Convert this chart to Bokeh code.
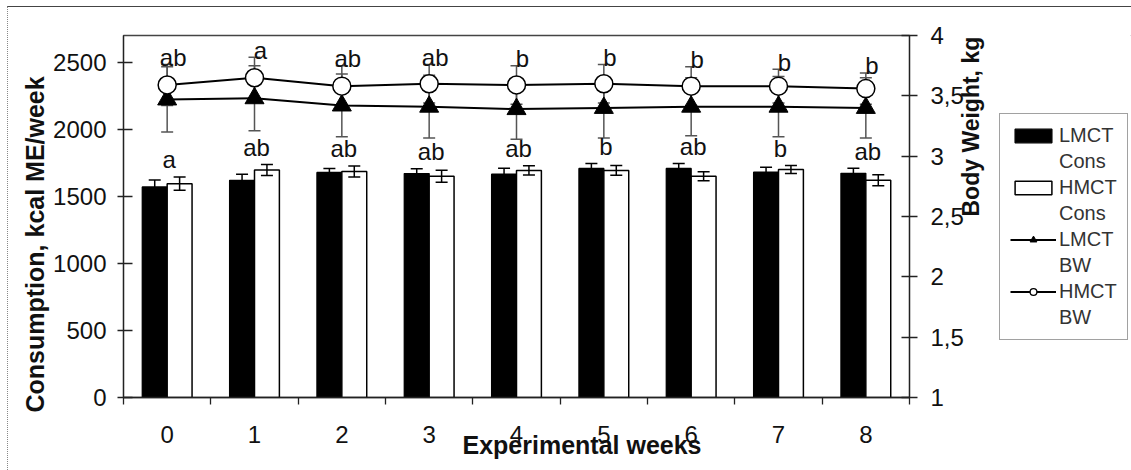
import math
from bokeh.plotting import figure
from bokeh.layouts import row
from bokeh.models import (Range1d, LinearAxis, FixedTicker, Legend, LegendItem,
                          Title, CustomJSTickFormatter)
from bokeh.core.properties import value
from bokeh.embed import file_html
from bokeh.resources import INLINE

# ---- data -------------------------------------------------------------
weeks = ["0", "1", "2", "3", "4", "5", "6", "7", "8"]
lmct_cons = [1570, 1620, 1678, 1670, 1665, 1708, 1708, 1680, 1672]
lmct_cons_err = [52, 45, 30, 37, 45, 37, 37, 37, 37]
hmct_cons = [1595, 1697, 1686, 1650, 1694, 1694, 1650, 1700, 1620]
hmct_cons_err = [50, 41, 41, 45, 35, 37, 34, 30, 41]
lmct_bw = [3.47, 3.48, 3.42, 3.41, 3.39, 3.40, 3.41, 3.41, 3.40]
lmct_bw_err = [0.27, 0.27, 0.26, 0.26, 0.25, 0.25, 0.24, 0.25, 0.25]
hmct_bw = [3.59, 3.65, 3.58, 3.60, 3.59, 3.60, 3.58, 3.58, 3.56]
hmct_bw_err = [0.17, 0.17, 0.17, 0.16, 0.16, 0.16, 0.16, 0.14, 0.13]
bw_letters = ["ab", "a", "ab", "ab", "b", "b", "b", "b", "b"]
cons_letters = ["a", "ab", "ab", "ab", "ab", "b", "ab", "b", "ab"]
left_ticks = [0, 500, 1000, 1500, 2000, 2500]
right_ticks = [1, 1.5, 2, 2.5, 3, 3.5, 4]
legend_lines = [("LMCT", "Cons"), ("HMCT", "Cons"), ("LMCT", "BW"), ("HMCT", "BW")]

FNAME = "Liberation Sans"
FONT = value(FNAME)
n = len(weeks)
xc = [i + 0.5 for i in range(n)]
bar_w = 0.285
xl = [x - 0.1425 for x in xc]
xh = [x + 0.1425 for x in xc]

p = figure(width=991, height=463, x_range=Range1d(0, n), y_range=Range1d(0, 2700),
           output_backend="svg", toolbar_location=None,
           min_border_left=115, min_border_right=87, min_border_top=28,
           min_border_bottom=73)
p.xgrid.visible = False
p.ygrid.visible = False
p.outline_line_color = "#444"
p.outline_line_width = 1.3
p.extra_y_ranges = {"bw": Range1d(1, 4)}

TICK_FS = "24px"

# x axis
xa = p.xaxis[0]
xa.ticker = FixedTicker(ticks=xc, minor_ticks=list(range(n + 1)))
xa.formatter = CustomJSTickFormatter(args=dict(labels=weeks),
                                     code="return labels[Math.floor(tick)];")
xa.major_tick_in = 0
xa.major_tick_out = 0
xa.major_tick_line_color = None
xa.minor_tick_in = 0
xa.minor_tick_out = 7
xa.minor_tick_line_color = "#222"
xa.minor_tick_line_width = 1.3
xa.axis_line_color = "#222"
xa.axis_line_width = 1.3
xa.major_label_standoff = 21
xa.major_label_text_font = FNAME
xa.major_label_text_font_size = TICK_FS
xa.major_label_text_color = "#111"

# left axis
ya = p.yaxis[0]
ya.ticker = FixedTicker(ticks=left_ticks)
ya.major_tick_in = 9
ya.major_tick_out = 6
ya.minor_tick_line_color = None
ya.major_tick_line_color = "#222"
ya.major_tick_line_width = 1.3
ya.axis_line_color = "#222"
ya.axis_line_width = 1.3
ya.major_label_standoff = 11
ya.major_label_text_font = FNAME
ya.major_label_text_font_size = TICK_FS
ya.major_label_text_color = "#111"

# right axis
ra = LinearAxis(y_range_name="bw", ticker=FixedTicker(ticks=right_ticks),
                formatter=CustomJSTickFormatter(code="return tick.toString().replace('.', ',');"))
ra.major_tick_in = 8
ra.major_tick_out = 8
ra.minor_tick_line_color = None
ra.major_tick_line_color = "#222"
ra.major_tick_line_width = 1.3
ra.axis_line_color = "#222"
ra.axis_line_width = 1.3
ra.major_label_standoff = 13
ra.major_label_text_font = FNAME
ra.major_label_text_font_size = TICK_FS
ra.major_label_text_color = "#111"
ra.axis_label = "Body Weight, kg"
ra.axis_label_orientation = math.pi / 2
ra.axis_label_standoff = 4
ra.axis_label_text_font = FNAME
ra.axis_label_text_font_size = "23px"
ra.axis_label_text_font_style = "bold"
ra.axis_label_text_color = "#111"
p.add_layout(ra, "right")

# titles
p.add_layout(Title(text="Consumption, kcal ME/week", align="left", offset=-15,
                   text_font=FNAME, text_font_size="25px", text_font_style="bold",
                   text_color="#111", standoff=4), "left")
p.add_layout(Title(text="Experimental weeks", align="left", offset=339,
                   vertical_align="top", text_font=FNAME, text_font_size="25px",
                   text_font_style="bold", text_color="#111", standoff=-30), "below")

# bars
p.vbar(x=xl, top=lmct_cons, bottom=0, width=bar_w, fill_color="black",
       line_color="black", line_width=1.3)
p.vbar(x=xh, top=hmct_cons, bottom=0, width=bar_w, fill_color="white",
       line_color="black", line_width=1.5)


def errbars(x, y, err, color, range_name="default"):
    lo = [a - b for a, b in zip(y, err)]
    hi = [a + b for a, b in zip(y, err)]
    p.segment(x0=x, y0=lo, x1=x, y1=hi, line_color=color, line_width=1.5,
              y_range_name=range_name)
    p.scatter(x=x + x, y=lo + hi, marker="dash", size=12, line_color=color,
              line_width=1.5, y_range_name=range_name)


errbars(xl, lmct_cons, lmct_cons_err, "black")
errbars(xh, hmct_cons, hmct_cons_err, "black")
errbars(xc, lmct_bw, lmct_bw_err, "#555", "bw")
errbars(xc, hmct_bw, hmct_bw_err, "#555", "bw")

p.line(x=xc, y=lmct_bw, line_color="black", line_width=2, y_range_name="bw")
p.line(x=xc, y=hmct_bw, line_color="black", line_width=2, y_range_name="bw")
p.scatter(x=xc, y=lmct_bw, marker="triangle", size=19, fill_color="black",
          line_color="black", y_range_name="bw")
p.scatter(x=xc, y=hmct_bw, marker="circle", size=18, fill_color="white",
          line_color="black", line_width=1.5, y_range_name="bw")

# significance letters
p.text(x=xc, y=[a + b for a, b in zip(hmct_bw, hmct_bw_err)], text=bw_letters,
       y_range_name="bw", text_align="center", text_baseline="alphabetic",
       x_offset=6, y_offset=-7, text_font=FONT, text_font_size="24px", text_color="#111")
cons_top = [max(a + b, c + d) for a, b, c, d in
            zip(lmct_cons, lmct_cons_err, hmct_cons, hmct_cons_err)]
p.text(x=xc, y=cons_top, text=cons_letters, text_align="center",
       text_baseline="alphabetic", x_offset=2, y_offset=-17, text_font=FONT,
       text_font_size="24px", text_color="#111")

# ---- legend panel (separate figure beside the chart) ------------------
# proxy glyphs hold one data point each; the panel's ranges keep them out of view
lp = figure(width=132, height=463, x_range=Range1d(-3, -2),
            y_range=Range1d(-3, -2), output_backend="svg",
            toolbar_location=None, x_axis_type=None, y_axis_type=None, min_border=0)
lp.xgrid.visible = False
lp.ygrid.visible = False
lp.outline_line_color = None
g_l = lp.vbar(x=xc[-1:], top=lmct_cons[:1], bottom=lmct_cons[:1], width=bar_w,
              fill_color="black", line_color="black", line_width=1.3)
g_h = lp.vbar(x=xc[-1:], top=hmct_cons[:1], bottom=hmct_cons[:1], width=bar_w,
              fill_color="white", line_color="black", line_width=1.5)
gl_l = lp.line(x=xc[-2:], y=lmct_bw[:2], line_color="black", line_width=2)
gm_l = lp.scatter(x=xc[-1:], y=lmct_bw[:1], marker="triangle", fill_color="black",
                  line_color="black")
gl_h = lp.line(x=xc[-2:], y=hmct_bw[:2], line_color="black", line_width=2)
gm_h = lp.scatter(x=xc[-1:], y=hmct_bw[:1], marker="circle", fill_color="white",
                  line_color="black", line_width=1.3)
blank = lp.line(x=xc[-2:], y=lmct_bw[:2], line_alpha=0)
glyph_sets = [[g_l], [g_h], [gl_l, gm_l], [gl_h, gm_h]]
items = []
for (first, second), rends in zip(legend_lines, glyph_sets):
    items.append(LegendItem(label=first, renderers=rends))
    items.append(LegendItem(label=second, renderers=[blank]))
legend = Legend(items=items, location=(0, 57), border_line_color="#444",
                border_line_width=1.3, label_text_font=FNAME,
                label_text_font_size="20px", label_text_color="#333",
                glyph_width=46, glyph_height=17, label_standoff=3, padding=10,
                spacing=3)
lp.add_layout(legend, "center")

root = row(p, lp, styles={"margin-left": "7px", "margin-top": "6px",
                          "border-top": "1px solid #444",
                          "border-left": "1px dotted #888"})

open("out.html", "w").write(file_html(root, INLINE))
